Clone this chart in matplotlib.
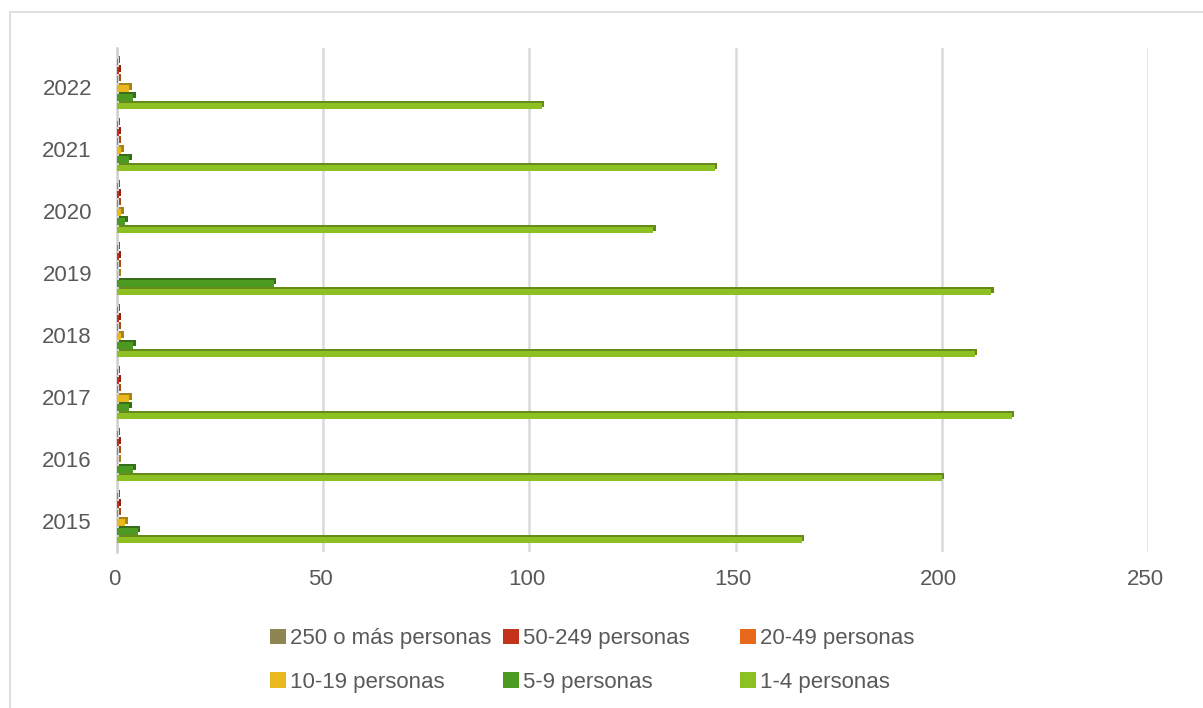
import numpy as np
import matplotlib.pyplot as plt
import matplotlib.transforms as mtransforms
from matplotlib.colors import to_rgb
from matplotlib.patches import Rectangle, Patch

years = ['2015', '2016', '2017', '2018', '2019', '2020', '2021', '2022']
series = ['1-4 personas', '5-9 personas', '10-19 personas',
          '20-49 personas', '50-249 personas', '250 o más personas']
v_1_4 = [166, 200, 217, 208, 212, 130, 145, 103]
v_5_9 = [5, 4, 3, 4, 38, 2, 3, 4]
v_10_19 = [2, 0.3, 3, 1, 0.3, 1, 1, 3]
v_20_49 = [0.3, 0.3, 0.3, 0.3, 0.3, 0.3, 0.3, 0.3]
v_50_249 = [0.4, 0.4, 0.4, 0.4, 0.4, 0.4, 0.4, 0.4]
v_250 = [0.2, 0.2, 0.2, 0.2, 0.2, 0.2, 0.2, 0.2]
values = [v_1_4, v_5_9, v_10_19, v_20_49, v_50_249, v_250]
colors = ['#8DC023', '#4C9A21', '#E8B81E', '#E9691C', '#C4321A', '#8E8550']

text_col = '#595959'
fs = 16
plt.rcParams['font.family'] = ['Liberation Sans', 'DejaVu Sans']

W, H = 1203, 708
fig = plt.figure(figsize=(W / 100, H / 100), dpi=100)
fig.patches.append(Rectangle((10 / W, -0.05), 1.2, 1 - 12 / H + 0.05,
                             transform=fig.transFigure, fill=False,
                             edgecolor='#D9D9D9', linewidth=1.2))
ax = fig.add_axes([117 / W, 1 - 552 / H, (1148 - 117) / W, (552 - 48) / H])

y = np.arange(len(years))
h = 0.142
base = -0.36
dx, dy = 0.6, 0.034


def darker(c, f=0.72):
    return tuple(x * f for x in to_rgb(c))


for i, (vals, col) in enumerate(zip(values, colors)):
    bottom = y + base + h * i
    ax.barh(bottom + dy, vals, height=h - dy, left=dx, align='edge',
            color=darker(col), linewidth=0, zorder=3)
    ax.barh(bottom, vals, height=h - dy, align='edge', color=col,
            linewidth=0, zorder=4)

ax.set_xlim(0, 250)
ax.set_ylim(-0.5, len(years) - 0.5 + 8 / 62)
ax.set_xticks(np.arange(0, 251, 50))
ax.set_yticks(y)
ax.set_yticklabels(years)
ax.grid(axis='x', color='#D9D9D9', linewidth=1.8, zorder=0)
ax.set_axisbelow(True)
for s in ['top', 'right', 'bottom']:
    ax.spines[s].set_visible(False)
ax.spines['left'].set_color('#D0D0D0')
ax.spines['left'].set_linewidth(1.8)
ax.tick_params(length=0, labelsize=fs, colors=text_col)
ax.tick_params(axis='x', pad=12)
ax.tick_params(axis='y', pad=18)
shift = mtransforms.ScaledTranslation(-3 / 100, 0, fig.dpi_scale_trans)
for lab in ax.get_xticklabels():
    lab.set_transform(lab.get_transform() + shift)

# legend: three columns, filled row by row
col_x = [270, 503, 740]
columns = [[5, 2], [4, 1], [3, 0]]
for cx, ks in zip(col_x, columns):
    handles = [Patch(facecolor=colors[k], label=series[k]) for k in ks]
    leg = fig.legend(handles=handles, loc='center left',
                     bbox_to_anchor=(cx / W, 1 - 660.5 / H), frameon=False,
                     fontsize=fs, handlelength=0.7, handleheight=0.7,
                     handletextpad=0.2, labelspacing=1.02, borderpad=0,
                     borderaxespad=0)
    for t in leg.get_texts():
        t.set_color(text_col)

fig.savefig('out.png', dpi=100)
